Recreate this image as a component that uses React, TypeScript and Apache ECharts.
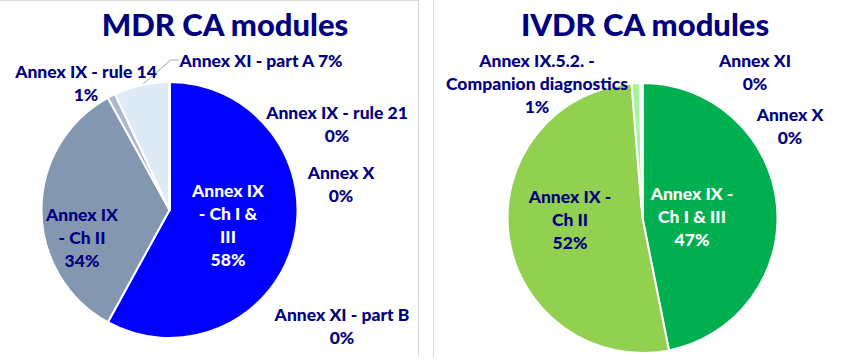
import React, { useEffect, useRef } from "react";
import * as echarts from "echarts";

// ---- data ----
const mdrTitle = "MDR CA modules";
const mdrCategories = [
  "Annex IX - Ch I & III",
  "Annex IX - Ch II",
  "Annex IX - rule 14",
  "Annex XI - part A",
  "Annex IX - rule 21",
  "Annex X",
  "Annex XI - part B",
];
const mdrValues = [58, 34, 1, 7, 0, 0, 0];

const ivdrTitle = "IVDR CA modules";
const ivdrCategories = [
  "Annex IX - Ch I & III",
  "Annex IX - Ch II",
  "Annex IX.5.2. - Companion diagnostics",
  "Annex XI",
  "Annex X",
];
const ivdrValues = [47, 52, 1, 0.3, 0];

// ---- styling ----
const NAVY = "#000080";
const FONT = "Lato, 'Open Sans', sans-serif";
const mdrColors = ["#0000FF", "#8497B0", "#ADB9CA", "#DEEBF7", "#A5A5A5", "#FFC000", "#5B9BD5"];
const ivdrColors = ["#00B050", "#92D050", "#A3F59A", "#FFFF66", "#FFC000"];

const mdrWrap: Record<string, string> = {
  "Annex IX - Ch I & III": "Annex IX\n- Ch I &\nIII",
  "Annex IX - Ch II": "Annex IX\n- Ch II",
};
const ivdrWrap: Record<string, string> = {
  "Annex IX - Ch I & III": "Annex IX -\nCh I & III",
  "Annex IX - Ch II": "Annex IX -\nCh II",
  "Annex IX.5.2. - Companion diagnostics": "Annex IX.5.2. -\nCompanion diagnostics",
};
const singleLine = new Set(["Annex XI - part A"]);
const insideWhite = new Set(["Annex IX - Ch I & III"]);

// label anchor positions (layout)
const mdrLabelPos: Record<string, [number, number]> = {
  "Annex IX - Ch I & III": [228, 225],
  "Annex IX - Ch II": [82, 237],
  "Annex IX - rule 14": [86, 83],
  "Annex XI - part A": [261, 60],
  "Annex IX - rule 21": [337, 124],
  "Annex X": [341, 184],
  "Annex XI - part B": [342, 326],
};
const ivdrLabelPos: Record<string, [number, number]> = {
  "Annex IX - Ch I & III": [692, 216],
  "Annex IX - Ch II": [570, 219],
  "Annex IX.5.2. - Companion diagnostics": [537, 83],
  "Annex XI": [755, 72],
  "Annex X": [790, 126],
};

function buildData(cats: string[], vals: number[], colors: string[]) {
  return cats.map((name, i) => ({
    name,
    value: vals[i],
    itemStyle: { color: colors[i] },
    label: { color: insideWhite.has(name) ? "#FFFFFF" : NAVY },
    labelLine: { show: name === "Annex XI - part A" },
  }));
}

function makeFormatter(wrap: Record<string, string>) {
  return (p: any) => {
    const n = wrap[p.name] || p.name;
    const sep = singleLine.has(p.name) ? " " : "\n";
    return n + sep + Math.round(p.value) + "%";
  };
}

function makeLayout(pos: Record<string, [number, number]>, cats: string[]) {
  return (params: any) => {
    const name = cats[params.dataIndex];
    const p = pos[name];
    if (!p) return {};
    return { x: p[0], y: p[1], align: "center", verticalAlign: "middle" };
  };
}

export default function App() {
  const ref = useRef<HTMLDivElement>(null);
  useEffect(() => {
    if (!ref.current) return;
    const chart = echarts.init(ref.current, undefined, { renderer: "svg" });
    const labelBase = {
      show: true,
      position: "outside" as const,
      fontFamily: FONT,
      fontWeight: 900 as any,
      fontSize: 17.5,
      lineHeight: 23,
      align: "center" as const,
    };
    const titleStyle = { fontFamily: FONT, fontWeight: 900 as any, fontSize: 31, color: NAVY };
    chart.setOption({
      animation: false,
      backgroundColor: "#FFFFFF",
      title: [
        { text: mdrTitle, left: 220, top: 3, textAlign: "center", textStyle: titleStyle },
        { text: ivdrTitle, left: 640, top: 3, textAlign: "center", textStyle: titleStyle },
      ],
      graphic: [
        { type: "line", shape: { x1: 0, y1: 0.5, x2: 419, y2: 0.5 }, style: { stroke: "#D9D9D9", lineWidth: 1 } },
        { type: "line", shape: { x1: 418.5, y1: 0, x2: 418.5, y2: 357 }, style: { stroke: "#D9D9D9", lineWidth: 1 } },
        { type: "line", shape: { x1: 433.5, y1: 0, x2: 433.5, y2: 357 }, style: { stroke: "#D9D9D9", lineWidth: 1 } },
      ],
      series: [
        {
          type: "pie",
          center: [169.5, 210],
          radius: [0, 128],
          startAngle: 90,
          clockwise: true,
          avoidLabelOverlap: false,
          data: buildData(mdrCategories, mdrValues, mdrColors),
          itemStyle: { borderColor: "#FFFFFF", borderWidth: 2 },
          label: { ...labelBase, formatter: makeFormatter(mdrWrap) },
          labelLine: { show: false, length: 8, length2: 8, lineStyle: { color: "#A6A6A6", width: 1 } },
          labelLayout: makeLayout(mdrLabelPos, mdrCategories),
          emphasis: { disabled: true },
        },
        {
          type: "pie",
          center: [642.5, 218],
          radius: [0, 135],
          startAngle: 90,
          clockwise: true,
          avoidLabelOverlap: false,
          data: buildData(ivdrCategories, ivdrValues, ivdrColors),
          itemStyle: { borderColor: "#FFFFFF", borderWidth: 2 },
          label: { ...labelBase, formatter: makeFormatter(ivdrWrap) },
          labelLine: { show: false },
          labelLayout: makeLayout(ivdrLabelPos, ivdrCategories),
          emphasis: { disabled: true },
        },
      ],
    });
    return () => chart.dispose();
  }, []);
  return (
    <div
      ref={ref}
      style={{ position: "fixed", left: 0, top: 0, width: 845, height: 360 }}
    />
  );
}
